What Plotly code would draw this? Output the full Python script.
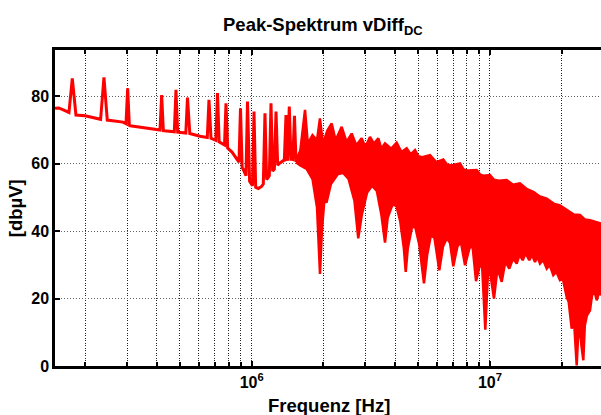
import numpy as np
import plotly.graph_objects as go

# ---------------- data ----------------
# low-frequency baseline of the peak spectrum (Hz, dBµV)
base_f = [1.495e5, 1.55e5, 1.62e5, 1.674e5, 1.83e5, 1.998e5, 2.271e5, 2.47e5,
          2.88e5, 3.09e5, 3.398e5, 3.928e5, 4.30e5, 4.95e5, 5.50e5, 6.067e5,
          6.75e5, 7.33e5, 7.689e5, 8.268e5, 8.845e5, 9.20e5, 9.464e5, 9.80e5,
          1.0078e6, 1.066e6, 1.10e6, 1.16e6, 1.23e6, 1.30e6, 1.36e6, 1.41e6,
          1.47e6, 1.534e6]
base_v = [76.5, 76.6, 76.0, 75.5, 74.5, 74.3, 73.3, 73.0,
          72.4, 71.3, 70.9, 70.3, 69.8, 69.4, 69.0, 68.2,
          67.6, 66.5, 65.6, 63.5, 60.5, 58.5, 56.5, 54.8,
          53.5, 52.7, 53.3, 55.5, 58.0, 60.0, 61.0, 61.3,
          61.4, 61.0]

# isolated spectral spikes (Hz, dBµV)
spike_f = [1.767e5, 2.399e5, 3.017e5, 4.190e5, 4.812e5, 5.378e5, 6.618e5,
           7.186e5, 7.801e5, 8.975e5, 9.603e5, 1.0226e6, 1.137e6, 1.205e6,
           1.265e6, 1.393e6, 1.438e6, 1.512e6]
spike_v = [85.4, 85.7, 82.4, 80.4, 82.0, 79.7, 79.0,
           81.0, 78.0, 76.5, 78.5, 75.5, 75.0, 78.0,
           75.5, 74.5, 77.0, 74.3]

# dense harmonic region: upper envelope (Hz, dBµV)
upper_f = [1.534e6, 1.60e6, 1.674e6, 1.72e6, 1.80e6, 1.88e6, 1.934e6, 1.99e6,
           2.08e6, 2.166e6, 2.25e6, 2.386e6, 2.50e6, 2.628e6, 2.75e6, 2.894e6,
           3.00e6, 3.136e6, 3.26e6, 3.399e6, 3.50e6, 3.626e6, 3.85e6, 4.059e6,
           4.25e6, 4.471e6, 4.65e6, 4.845e6, 5.00e6, 5.20e6, 5.601e6, 5.95e6,
           6.368e6, 6.60e6, 6.90e6, 7.484e6, 7.75e6, 8.10e6, 8.796e6, 9.10e6,
           9.40e6, 1.0e7, 1.04e7, 1.09e7, 1.175e7, 1.25e7, 1.336e7, 1.43e7,
           1.520e7, 1.62e7, 1.730e7, 1.85e7, 1.967e7, 2.098e7, 2.24e7, 2.386e7,
           2.50e7, 2.628e7, 2.923e7]
upper_v = [61.0, 64.0, 76.0, 66.0, 68.5, 67.0, 73.5, 66.0,
           70.0, 72.0, 67.0, 71.0, 66.5, 69.0, 65.5, 67.6,
           65.0, 68.0, 66.0, 67.6, 64.5, 66.1, 64.5, 66.3,
           63.5, 64.6, 62.8, 64.1, 62.3, 62.0, 62.6, 60.5,
           61.3, 59.8, 59.5, 60.1, 58.3, 58.0, 58.2, 56.8,
           56.5, 56.7, 55.3, 55.0, 55.2, 53.8, 54.2, 52.5,
           51.7, 50.3, 49.7, 48.2, 47.7, 46.3, 45.0, 44.8,
           43.5, 43.3, 42.3]

# dense harmonic region: lower boundary with the notches (Hz, dBµV)
lower_f = [1.534e6, 1.60e6, 1.70e6, 1.80e6, 1.88e6, 1.935e6, 1.97e6, 2.02e6,
           2.06e6, 2.15e6, 2.30e6, 2.42e6, 2.55e6, 2.70e6, 2.80e6, 2.90e6,
           3.05e6, 3.20e6, 3.35e6, 3.50e6, 3.626e6, 3.72e6, 3.90e6, 4.05e6,
           4.20e6, 4.35e6, 4.43e6, 4.52e6, 4.70e6, 4.85e6, 5.05e6, 5.284e6,
           5.45e6, 5.65e6, 5.85e6, 6.127e6, 6.35e6, 6.60e6, 6.80e6, 7.015e6,
           7.30e6, 7.55e6, 7.857e6, 8.20e6, 8.45e6, 8.737e6, 9.00e6, 9.25e6,
           9.557e6, 9.80e6, 1.0e7, 1.0394e7, 1.075e7, 1.12e7, 1.16e7, 1.205e7,
           1.25e7, 1.294e7, 1.33e7, 1.372e7, 1.41e7, 1.462e7, 1.50e7, 1.545e7,
           1.58e7, 1.621e7, 1.67e7, 1.730e7, 1.78e7, 1.844e7, 1.90e7, 1.967e7,
           2.02e7, 2.098e7, 2.14e7, 2.202e7, 2.25e7, 2.28e7, 2.311e7, 2.34e7,
           2.38e7, 2.42e7, 2.464e7, 2.50e7, 2.55e7, 2.628e7, 2.68e7, 2.75e7,
           2.804e7, 2.87e7, 2.923e7]
lower_v = [60.5, 59.5, 58.5, 55.5, 47.0, 27.3, 40.0, 49.5,
           48.5, 54.0, 57.0, 57.3, 55.5, 49.0, 37.9, 45.0,
           51.5, 53.5, 52.0, 45.0, 36.6, 44.0, 48.0, 47.5,
           43.0, 35.0, 27.9, 35.0, 41.0, 41.5, 36.0, 24.5,
           33.0, 38.8, 38.0, 28.4, 35.5, 38.0, 36.5, 29.6,
           35.5, 36.8, 29.9, 35.0, 35.6, 25.2, 29.0, 31.0,
           10.8, 27.0, 28.0, 20.0, 29.0, 25.0, 31.0, 28.9,
           32.0, 30.4, 33.0, 31.4, 33.5, 31.4, 33.0, 30.9,
           32.5, 30.4, 31.5, 28.9, 30.0, 27.0, 28.0, 25.5,
           26.0, 20.5, 19.0, 11.1, 14.0, 6.0, 0.2, 8.0,
           12.0, 6.0, 1.7, 12.0, 15.0, 16.5, 21.0, 22.0,
           19.5, 22.0, 21.0]

# axis ticks
x_major = [1e6, 1e7]
x_major_text = ["10<sup>6</sup>", "10<sup>7</sup>"]
x_minor = [2e5, 3e5, 4e5, 5e5, 6e5, 7e5, 8e5, 9e5,
           2e6, 3e6, 4e6, 5e6, 6e6, 7e6, 8e6, 9e6, 2e7]
y_ticks = [0, 20, 40, 60, 80]

# ---------------- build the low-frequency line (baseline + spikes) ----------------
lb = np.log10(base_f)
pts = list(zip(base_f, base_v))
for f, top in zip(spike_f, spike_v):
    hw = 0.014 if f < 2.6e5 else 0.007
    lf = np.log10(f)
    bl = float(np.interp(lf - hw, lb, base_v))
    br = float(np.interp(lf + hw, lb, base_v))
    pts += [(10 ** (lf - hw), bl), (f, top), (10 ** (lf + hw), br)]
pts.sort(key=lambda p: p[0])
lf_x = [p[0] for p in pts]
lf_y = [p[1] for p in pts]

# dense band polygon: upper envelope then lower boundary reversed
band_x = list(upper_f) + list(lower_f[::-1])
band_y = list(upper_v) + list(lower_v[::-1])

RED = "#ff0000"
fig = go.Figure()
fig.add_trace(go.Scatter(x=band_x, y=band_y, mode="lines", fill="toself",
                         fillcolor=RED, line=dict(color=RED, width=2.5),
                         hoverinfo="skip", showlegend=False))
fig.add_trace(go.Scatter(x=lf_x, y=lf_y, mode="lines",
                         line=dict(color=RED, width=3), showlegend=False))

FONT = "Liberation Sans, Arial, Helvetica, sans-serif"
x0, x1 = np.log10(1.495e5), np.log10(2.923e7)
GRID_X = "#222222"
GRID_Y = "#666666"

fig.update_layout(
    width=601, height=415,
    margin=dict(l=55, r=0, t=50, b=49),
    paper_bgcolor="white", plot_bgcolor="white",
    font=dict(family=FONT, color="black"),
    xaxis=dict(
        type="log", range=[x0, x1],
        tickmode="array", tickvals=x_major, ticktext=x_major_text,
        tickfont=dict(size=16, weight="bold", family=FONT),
        ticks="inside", ticklen=5, tickwidth=2, tickcolor="black",
        showline=True, linecolor="black", linewidth=2.5, mirror="ticks",
        showgrid=True, gridcolor=GRID_X, gridwidth=1.2, griddash="1px,1.5px",
        minor=dict(tickmode="array", tickvals=x_minor, showgrid=True,
                   gridcolor=GRID_X, gridwidth=1.2, griddash="1px,1.5px",
                   ticks="inside", ticklen=4, tickwidth=2, tickcolor="black"),
        zeroline=False,
    ),
    yaxis=dict(
        range=[0, 93.8], tickmode="array", tickvals=y_ticks,
        tickfont=dict(size=16, weight="bold", family=FONT),
        ticks="inside", ticklen=5, tickwidth=2, tickcolor="black",
        showline=True, linecolor="black", linewidth=2.5,
        showgrid=True, gridcolor=GRID_Y, gridwidth=1, griddash="1px,2px",
        zeroline=False,
    ),
    annotations=[
        dict(text="<b>Peak-Spektrum vDiff<sub>DC</sub></b>", xref="paper", yref="paper",
             x=0.491, y=1.075, xanchor="center", yanchor="middle", showarrow=False,
             font=dict(size=18.5, family=FONT, color="black")),
        dict(text="<b>Frequenz [Hz]</b>", xref="paper", yref="paper",
             x=0.502, y=-0.125, xanchor="center", yanchor="middle", showarrow=False,
             font=dict(size=18.5, family=FONT, color="black")),
        dict(text="<b>[dbµV]</b>", xref="paper", yref="paper",
             x=-0.073, y=0.5, xanchor="center", yanchor="middle", showarrow=False,
             textangle=-90, font=dict(size=18.5, family=FONT, color="black")),
    ],
)

fig.write_html("out.html", config={"displayModeBar": False},
               post_script="document.body.style.margin='0';document.body.style.overflow='hidden';")
